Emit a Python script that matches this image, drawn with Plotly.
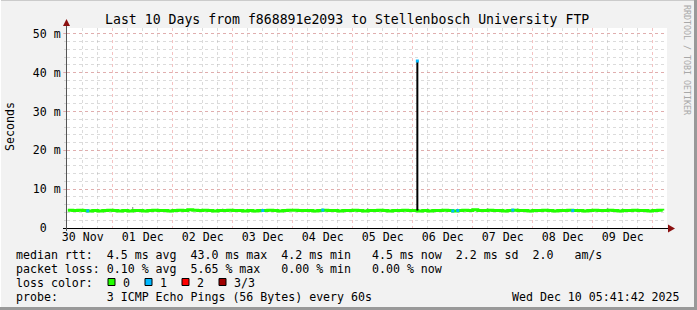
import plotly.graph_objects as go
import pandas as pd

# ---------------- data ----------------
title = "Last 10 Days from f868891e2093 to Stellenbosch University FTP"
t_start = "2025-11-30 05:41:42"
t_end = "2025-12-10 05:41:42"
sample_start = "2025-11-30 06:00"
sample_step = "2h"

median_ms = [
    4.6, 4.5, 4.6, 4.5, 4.4, 4.5, 4.4, 4.5, 4.6, 4.5, 4.4, 4.5,
    4.4, 4.5, 4.5, 4.4, 4.5, 4.6, 4.5, 4.5, 4.4, 4.5, 4.6, 4.5,
    4.7, 4.6, 4.5, 4.6, 4.5, 4.4, 4.5, 4.5, 4.6, 4.5, 4.5, 4.4,
    4.5, 4.4, 4.5, 4.5, 4.6, 4.5, 4.4, 4.5, 4.6, 4.6, 4.5, 4.5,
    4.5, 4.4, 4.5, 4.6, 4.5, 4.5, 4.4, 4.5, 4.5, 4.6, 4.5, 4.4,
    4.5, 4.5, 4.6, 4.5, 4.4, 4.5, 4.5, 4.6, 4.5, 4.5, 4.4, 4.5,
    4.4, 4.5, 4.5, 4.6, 4.5, 4.4, 4.5, 4.6, 4.5, 4.7, 4.5, 4.5,
    4.6, 4.5, 4.5, 4.4, 4.5, 4.6, 4.5, 4.5, 4.4, 4.5, 4.5, 4.6,
    4.5, 4.4, 4.5, 4.5, 4.6, 4.5, 4.5, 4.4, 4.5, 4.6, 4.5, 4.5,
    4.6, 4.5, 4.4, 4.5, 4.5, 4.6, 4.5, 4.5, 4.4, 4.5, 4.6, 4.5,
]
loss1_idx = [4, 39, 51, 77, 78, 89, 101]
smoke_idx = [9, 13, 20, 31, 45, 60, 63, 72, 84, 90, 96, 108, 111, 116]
smoke_top_ms = [4.9, 5.4, 4.9, 5.0, 4.9, 5.1, 4.9, 5.0, 5.1, 5.0, 4.9, 5.2, 5.0, 4.9]
spike_time = "2025-12-06 01:50"
spike_base_ms = 4.5
spike_peak_ms = 43.0

y_tickvals = [0, 10, 20, 30, 40, 50]
y_ticktext = ["0\u00a0\u00a0", "10 m", "20 m", "30 m", "40 m", "50 m"]

legend_lines = [
    "median rtt:  4.5 ms avg  43.0 ms max  4.2 ms min   4.5 ms now  2.2 ms sd  2.0   am/s",
    "packet loss: 0.10 % avg  5.65 % max   0.00 % min   0.00 % now",
    "loss color:",
    "probe:       3 ICMP Echo Pings (56 Bytes) every 60s",
]
loss_labels = ["0", "1", "2", "3/3"]
loss_colors = ["#22ff00", "#00b8ff", "#ff0000", "#a00000"]
timestamp = "Wed Dec 10 05:41:42 2025"
watermark = "RRDTOOL / TOBI OETIKER"

# ---------------- figure ----------------
W, H = 697, 310
L, R, T, B = 67, 667, 28, 228
MONO = "DejaVu Sans Mono"
FS = 11.6


def px(x):
    return (x - L) / (R - L)


def py(y):
    return (B - y) / (B - T)


times = pd.date_range(sample_start, periods=len(median_ms), freq=sample_step)

fig = go.Figure()

# smoke ticks
sx, sy = [], []
for i, top in zip(smoke_idx, smoke_top_ms):
    sx += [times[i], times[i], None]
    sy += [median_ms[i], top, None]
fig.add_trace(go.Scatter(x=sx, y=sy, mode="lines",
                         line=dict(color="#808080", width=1), hoverinfo="skip"))

# median line
fig.add_trace(go.Scatter(x=times, y=median_ms, mode="lines",
                         line=dict(color=loss_colors[0], width=3, shape="hv")))

# loss = 1 samples
fig.add_trace(go.Scatter(x=[times[i] for i in loss1_idx],
                         y=[median_ms[i] for i in loss1_idx], mode="markers",
                         marker=dict(symbol="square", size=3, color=loss_colors[1],
                                     line=dict(width=0))))

# spike
fig.add_trace(go.Scatter(x=[spike_time, spike_time], y=[spike_base_ms, spike_peak_ms],
                         mode="lines", line=dict(color="#000000", width=2)))
fig.add_trace(go.Scatter(x=[spike_time], y=[spike_peak_ms], mode="markers",
                         marker=dict(symbol="square", size=3, color=loss_colors[1],
                                     line=dict(width=0))))

major_grid = "rgba(230,120,120,0.45)"
minor_grid = "rgba(175,175,175,0.45)"

fig.update_layout(
    width=W, height=H,
    margin=dict(l=L, r=W - R, t=T, b=H - B),
    paper_bgcolor="#f2f2f2",
    plot_bgcolor="#ffffff",
    showlegend=False,
    font=dict(family=MONO, size=FS, color="#000000"),
    xaxis=dict(
        type="date", range=[t_start, t_end],
        tick0="2025-11-30", dtick=86400000, tickformat="%d %b",
        ticklabelmode="period",
        showgrid=True, gridcolor=major_grid, griddash="dot", gridwidth=1,
        ticks="",
        tickfont=dict(family=MONO, size=FS, color="#000"),
        minor=dict(tick0="2025-11-30", dtick=21600000, showgrid=True,
                   gridcolor=minor_grid, griddash="dot", gridwidth=1, ticks=""),
        showline=False, zeroline=False, fixedrange=True,
    ),
    yaxis=dict(
        range=[0, 51.5], tickvals=y_tickvals, ticktext=y_ticktext,
        showgrid=True, gridcolor=major_grid, griddash="dot", gridwidth=1,
        ticks="outside", ticklen=3, tickcolor=major_grid,
        tickfont=dict(family=MONO, size=FS, color="#000"),
        minor=dict(dtick=2, showgrid=True, gridcolor=minor_grid, griddash="dot",
                   gridwidth=1, ticks="outside", ticklen=2, tickcolor=minor_grid),
        showline=False, zeroline=False, fixedrange=True,
    ),
)

shapes = []
# figure border (3D effect)
shapes.append(dict(type="line", xref="paper", yref="paper", x0=px(0), x1=px(W), y0=py(0.5), y1=py(0.5),
                   line=dict(color="#cbcbcb", width=1)))
shapes.append(dict(type="line", xref="paper", yref="paper", x0=px(0.5), x1=px(0.5), y0=py(0), y1=py(H),
                   line=dict(color="#ffffff", width=1)))
shapes.append(dict(type="line", xref="paper", yref="paper", x0=px(0), x1=px(W), y0=py(H - 1.5), y1=py(H - 1.5),
                   line=dict(color="#999999", width=3)))
shapes.append(dict(type="line", xref="paper", yref="paper", x0=px(W - 1.5), x1=px(W - 1.5), y0=py(0), y1=py(H),
                   line=dict(color="#999999", width=3)))
# axes with arrows
shapes.append(dict(type="line", xref="paper", yref="paper", x0=px(63), x1=px(669), y0=py(B + 0.5), y1=py(B + 0.5),
                   line=dict(color="#000000", width=1)))
shapes.append(dict(type="line", xref="paper", yref="paper", x0=px(L - 0.5), x1=px(L - 0.5), y0=py(B + 3), y1=py(24),
                   line=dict(color="#555555", width=1)))
shapes.append(dict(type="path", xref="paper", yref="paper",
                   path=f"M {px(668)},{py(224.5)} L {px(675)},{py(228.5)} L {px(668)},{py(232.5)} Z",
                   fillcolor="#8b1010", line=dict(width=0)))
shapes.append(dict(type="path", xref="paper", yref="paper",
                   path=f"M {px(63)},{py(26)} L {px(66.5)},{py(19)} L {px(70)},{py(26)} Z",
                   fillcolor="#8b1010", line=dict(width=0)))
# loss colour boxes
box_x = [108, 145, 182, 219]
for bx, c in zip(box_x, loss_colors):
    shapes.append(dict(type="rect", xref="paper", yref="paper",
                       x0=px(bx), x1=px(bx + 7), y0=py(278.5), y1=py(285.5),
                       fillcolor=c, line=dict(color="#000000", width=1)))
fig.update_layout(shapes=shapes)


def nb(s):
    return s.replace(" ", "\u00a0")


ann = []
ann.append(dict(text=nb(title), x=px(347), y=py(19), xref="paper", yref="paper",
                xanchor="center", yanchor="middle", showarrow=False,
                font=dict(family=MONO, size=13.2, color="#000")))
ann.append(dict(text="Seconds", x=px(10), y=py(127), xref="paper", yref="paper",
                xanchor="center", yanchor="middle", showarrow=False, textangle=-90,
                font=dict(family=MONO, size=FS, color="#000")))
ann.append(dict(text=nb(watermark), x=px(687), y=py(60), xref="paper", yref="paper",
                xanchor="center", yanchor="middle", showarrow=False, textangle=90,
                font=dict(family=MONO, size=8.3, color="#a8a8a8")))
line_y = [254.5, 268.5, 282.5, 297]
for s, yy in zip(legend_lines, line_y):
    ann.append(dict(text=nb(s), x=px(14), y=py(yy), xref="paper", yref="paper",
                    xanchor="left", yanchor="middle", showarrow=False,
                    font=dict(family=MONO, size=FS, color="#000")))
for bx, lab in zip(box_x, loss_labels):
    ann.append(dict(text=lab, x=px(bx + 13), y=py(282.5), xref="paper", yref="paper",
                    xanchor="left", yanchor="middle", showarrow=False,
                    font=dict(family=MONO, size=FS, color="#000")))
ann.append(dict(text=nb(timestamp), x=px(682), y=py(297), xref="paper", yref="paper",
                xanchor="right", yanchor="middle", showarrow=False,
                font=dict(family=MONO, size=FS, color="#000")))
fig.update_layout(annotations=ann)

fig.write_html("out.html")
